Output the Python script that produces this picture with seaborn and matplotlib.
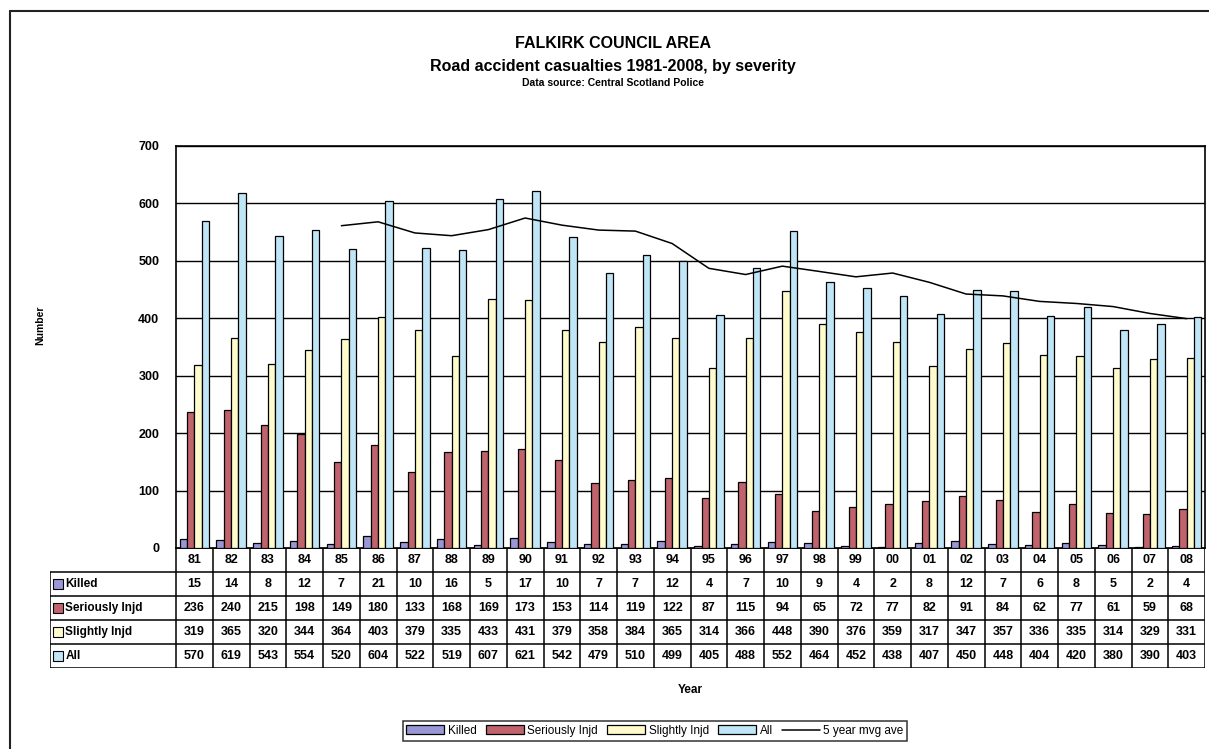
import matplotlib
matplotlib.use("Agg")
import matplotlib.pyplot as plt
from matplotlib.patches import Patch
from matplotlib.lines import Line2D
import pandas as pd
import seaborn as sns

# Casualty counts per year, Falkirk Council area
years = ["81", "82", "83", "84", "85", "86", "87", "88", "89", "90", "91", "92", "93", "94",
         "95", "96", "97", "98", "99", "00", "01", "02", "03", "04", "05", "06", "07", "08"]
killed = [15, 14, 8, 12, 7, 21, 10, 16, 5, 17, 10, 7, 7, 12,
          4, 7, 10, 9, 4, 2, 8, 12, 7, 6, 8, 5, 2, 4]
seriously = [236, 240, 215, 198, 149, 180, 133, 168, 169, 173, 153, 114, 119, 122,
             87, 115, 94, 65, 72, 77, 82, 91, 84, 62, 77, 61, 59, 68]
slightly = [319, 365, 320, 344, 364, 403, 379, 335, 433, 431, 379, 358, 384, 365,
            314, 366, 448, 390, 376, 359, 317, 347, 357, 336, 335, 314, 329, 331]
all_cas = [570, 619, 543, 554, 520, 604, 522, 519, 607, 621, 542, 479, 510, 499,
           405, 488, 552, 464, 452, 438, 407, 450, 448, 404, 420, 380, 390, 403]

# 5 year moving average of all casualties (from 1985 onwards)
mvg_years = years[4:]
mvg_avg = [561.2, 568.0, 548.6, 543.8, 554.4, 574.6, 562.2, 553.6, 551.8, 530.2, 487.0, 476.2,
           490.8, 481.6, 472.2, 478.8, 462.6, 442.2, 439.0, 429.4, 425.8, 420.4, 408.4, 399.4]

series_names = ["Killed", "Seriously Injd", "Slightly Injd", "All"]
series_values = [killed, seriously, slightly, all_cas]
colors = ["#9a97d6", "#c0636c", "#fffbcc", "#bfe5f6"]
y_ticks = [0, 100, 200, 300, 400, 500, 600, 700]

sns.set_style("white")
plt.rcParams["font.family"] = ["Liberation Sans", "DejaVu Sans"]
plt.rcParams["text.color"] = "black"
plt.rcParams["axes.labelcolor"] = "black"
plt.rcParams["xtick.color"] = "black"
plt.rcParams["ytick.color"] = "black"

W, H = 1209, 749
fig = plt.figure(figsize=(W / 100, H / 100), dpi=100)

# plot area in pixel terms
px_left, px_right, px_top, px_bottom = 176, 1205, 146, 548
ax = fig.add_axes([px_left / W, 1 - px_bottom / H,
                   (px_right - px_left) / W, (px_bottom - px_top) / H])

df = pd.DataFrame({
    "Year": years * len(series_names),
    "Casualties": sum(series_values, []),
    "Severity": sum([[n] * len(years) for n in series_names], []),
})

sns.barplot(data=df, x="Year", y="Casualties", hue="Severity", order=years,
            hue_order=series_names, palette=colors, saturation=1, width=0.8,
            edgecolor="black", linewidth=0.9, legend=False, ax=ax, zorder=3)

ax.plot([years.index(y) for y in mvg_years], mvg_avg, color="black", lw=1.1, zorder=4)

ax.set_xlim(-0.5, len(years) - 0.5)
ax.set_ylim(0, 700)
ax.set_yticks(y_ticks)
ax.set_yticklabels([str(t) for t in y_ticks], fontsize=9, fontweight="bold")
ax.tick_params(axis="y", direction="out", length=6, width=1, color="black", pad=6)
ax.tick_params(axis="x", bottom=False, labelbottom=False)
ax.set_xlabel("")
ax.set_ylabel("")
ax.yaxis.grid(True, color="black", lw=1)
ax.set_axisbelow(True)
for s in ax.spines.values():
    s.set_color("black")
    s.set_linewidth(1.2)

# data table below the plot, aligned with the category axis
tab_left, tab_top, tab_bottom = 50, 548, 668
ppu = (px_right - px_left) / len(years)
x_min = -0.5 - (px_left - tab_left) / ppu
tax = fig.add_axes([tab_left / W, 1 - tab_bottom / H,
                    (px_right - tab_left) / W, (tab_bottom - tab_top) / H])
tax.set_xlim(x_min, len(years) - 0.5)
tax.set_ylim(0, 5)
tax.axis("off")
n = len(years)
lw = 1.1
for yy in range(0, 5):
    tax.plot([x_min, n - 0.5], [yy, yy], color="black", lw=lw, solid_capstyle="projecting")
tax.plot([-0.5, n - 0.5], [5, 5], color="black", lw=lw)
for i in range(n + 1):
    tax.plot([i - 0.5, i - 0.5], [0, 5], color="black", lw=lw)
tax.plot([x_min, x_min], [0, 4], color="black", lw=lw)
for i, yr in enumerate(years):
    tax.text(i, 4.5, yr, ha="center", va="center", fontsize=9, fontweight="bold")
for r, (name, vals, col) in enumerate(zip(series_names, series_values, colors)):
    yc = 3.5 - r
    for i, v in enumerate(vals):
        tax.text(i, yc, str(v), ha="center", va="center", fontsize=9, fontweight="bold")
    tax.plot([x_min + 0.22], [yc], marker="s", markersize=6.5, markerfacecolor=col,
             markeredgecolor="black", markeredgewidth=0.8, clip_on=False)
    tax.text(x_min + 0.42, yc, name, ha="left", va="center", fontsize=8.5, fontweight="bold")

# titles and axis labels
fig.text(613 / W, 1 - 43 / H, "FALKIRK COUNCIL AREA", ha="center", va="center",
         fontsize=11.5, fontweight="bold")
fig.text(613 / W, 1 - 66 / H, "Road accident casualties 1981-2008, by severity",
         ha="center", va="center", fontsize=11.5, fontweight="bold")
fig.text(613 / W, 1 - 83 / H, "Data source: Central Scotland Police", ha="center",
         va="center", fontsize=7.5, fontweight="bold")
fig.text(40 / W, 1 - 325 / H, "Number", rotation=90, ha="center", va="center",
         fontsize=7.5, fontweight="bold")
fig.text(690 / W, 1 - 690 / H, "Year", ha="center", va="center", fontsize=8.5,
         fontweight="bold")

# legend
handles = [Patch(facecolor=c, edgecolor="black", linewidth=0.9) for c in colors]
handles.append(Line2D([0], [0], color="black", lw=1.1))
leg = fig.legend(handles, series_names + ["5 year mvg ave"], loc="center",
                 bbox_to_anchor=(655 / W, 1 - 731 / H), ncol=5, frameon=True,
                 fancybox=False, edgecolor="black", fontsize=8.5, handlelength=3.2,
                 handleheight=0.8, columnspacing=0.8, handletextpad=0.3, borderpad=0.3)
leg.get_frame().set_linewidth(1.1)

# outer chart frame
fig.add_artist(Line2D([10 / W, 10 / W], [0, 1 - 11 / H], transform=fig.transFigure,
                      color="#222222", lw=1.5))
fig.add_artist(Line2D([10 / W, 1], [1 - 11 / H, 1 - 11 / H], transform=fig.transFigure,
                      color="#222222", lw=1.5))

fig.savefig("out.png", dpi=100)
